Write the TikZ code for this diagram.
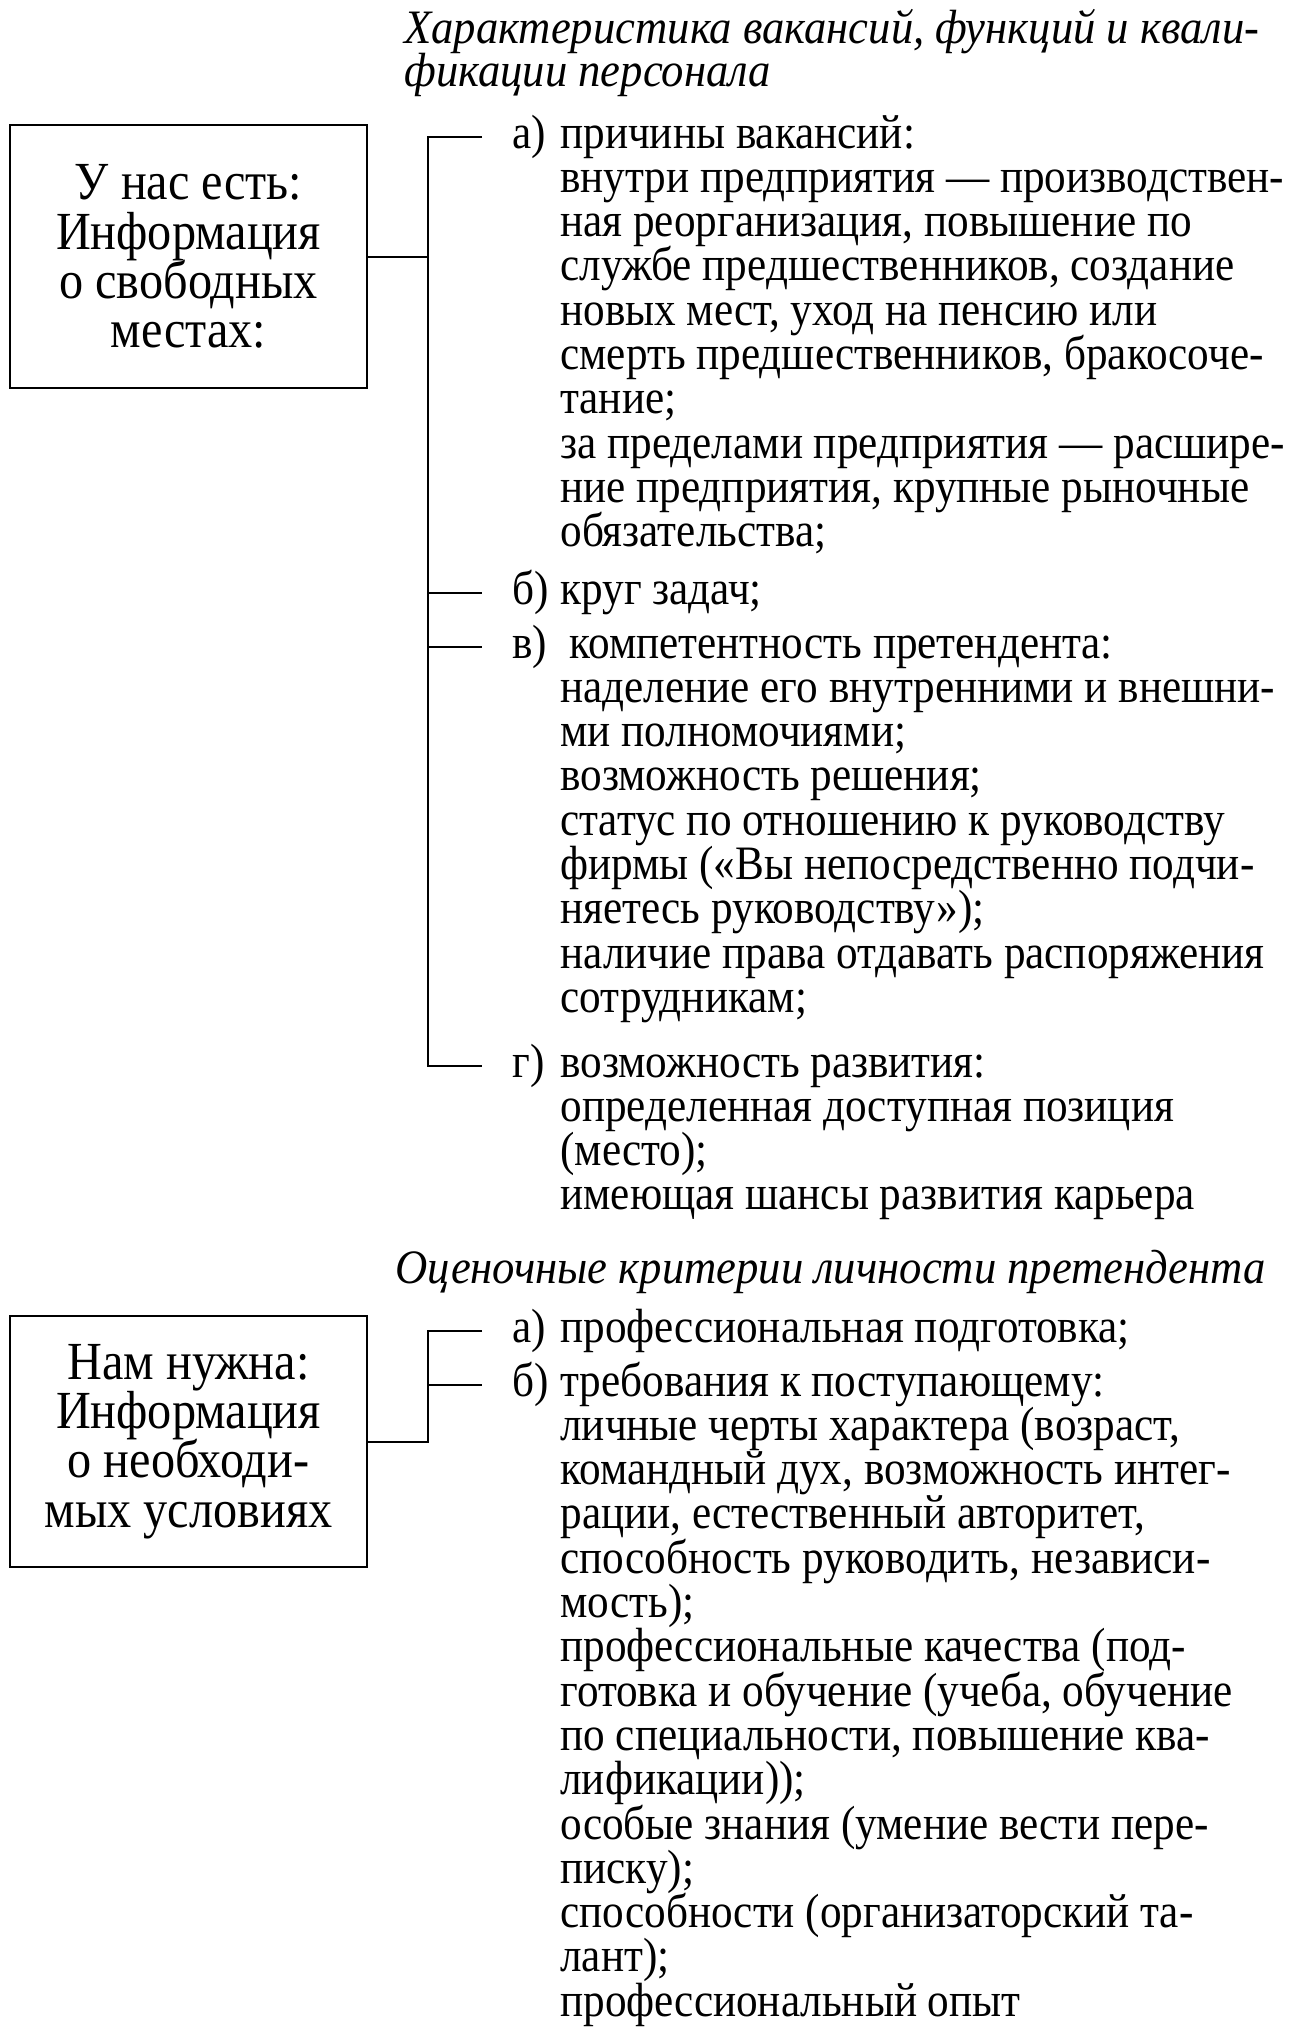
\documentclass[tikz,border=0pt]{standalone}
\usepackage{fontspec}
\setmainfont{Liberation Serif}[FakeStretch=0.9,ItalicFeatures={FakeStretch=0.93}]
\lineskiplimit=-100pt
\lineskip=0pt
\newcommand\itembody[1]{\parbox[t]{365pt}{\lineskiplimit=-100pt\lineskip=0pt\raggedright #1}}
\begin{document}
\fontsize{24}{22.15}\selectfont
\begin{tikzpicture}[x=0.5pt,y=-0.5pt,
  lw/.style={line width=1pt},
  infobox/.style={draw,line width=1.1pt,align=center,inner sep=0pt,minimum width=178.5pt,font=\fontsize{26.8}{24.6}\selectfont},
  lbl/.style={anchor=mid west,inner sep=0pt,font=\fontsize{24}{22.15}\selectfont},
  body/.style={anchor=mid west,inner sep=0pt,font=\fontsize{24}{22.15}\selectfont},
  ttl/.style={anchor=mid west,inner sep=0pt,font=\fontsize{24}{21.5}\selectfont\itshape}]
\useasboundingbox[fill=white] (0,0) rectangle (1291,2042);

% titles
\node[ttl] (t1) at (404,32) {\parbox[t]{450pt}{\lineskiplimit=-100pt\lineskip=0pt\raggedright Характеристика вакансий, функций и квали-\\фикации персонала}};
\node[ttl] (t2) at (395,1272) {Оценочные критерии личности претендента};

% boxes
\node[infobox,minimum height=131.5pt] (box1) at (188.5,256.5) {У нас есть:\\Информация\\о свободных\\местах:};
\node[infobox,minimum height=125.5pt] (box2) at (188.5,1441.5) {Нам нужна:\\Информация\\о необходи-\\мых условиях};

% block 1
\node[lbl] (la1) at (512,137) {а)};
\node[body] (ta1) at (560,137) {\itembody{причины вакансий:\\
внутри предприятия — производствен-\\
ная реорганизация, повышение по\\
службе предшественников, создание\\
новых мест, уход на пенсию или\\
смерть предшественников, бракосоче-\\
тание;\\
за пределами предприятия — расшире-\\
ние предприятия, крупные рыночные\\
обязательства;}};
\node[lbl] (lb1) at (512,593) {б)};
\node[body] (tb1) at (560,593) {\itembody{круг задач;}};
\node[lbl] (lc1) at (512,647) {в)};
\node[body] (tc1) at (560,647) {\itembody{\hspace*{4.5pt}компетентность претендента:\\
наделение его внутренними и внешни-\\
ми полномочиями;\\
возможность решения;\\
статус по отношению к руководству\\
фирмы («Вы непосредственно подчи-\\
няетесь руководству»);\\
наличие права отдавать распоряжения\\
сотрудникам;}};
\node[lbl] (ld1) at (512,1066) {г)};
\node[body] (td1) at (560,1066) {\itembody{возможность развития:\\
определенная доступная позиция\\
(место);\\
имеющая шансы развития карьера}};

% block 2
\node[lbl] (la2) at (512,1331) {а)};
\node[body] (ta2) at (560,1331) {\itembody{профессиональная подготовка;}};
\node[lbl] (lb2) at (512,1385) {б)};
\node[body] (tb2) at (560,1385) {\itembody{требования к поступающему:\\
личные черты характера (возраст,\\
командный дух, возможность интег-\\
рации, естественный авторитет,\\
способность руководить, независи-\\
мость);\\
профессиональные качества (под-\\
готовка и обучение (учеба, обучение\\
по специальности, повышение ква-\\
лификации));\\
особые знания (умение вести пере-\\
писку);\\
способности (организаторский та-\\
лант);\\
профессиональный опыт}};

% connectors block 1
\path (box1.east) ++(60,0) coordinate (j1);
\draw[lw] (box1.east) -- (j1);
\draw[lw] ([xshift=-15pt]la1.mid west) -- (la1.mid west -| j1) -- (ld1.mid west -| j1) -- ([xshift=-15pt]ld1.mid west);
\draw[lw] (lb1.mid west -| j1) -- ([xshift=-15pt]lb1.mid west);
\draw[lw] (lc1.mid west -| j1) -- ([xshift=-15pt]lc1.mid west);

% connectors block 2
\path (box2.east) ++(60,0) coordinate (j2);
\draw[lw] ([xshift=-15pt]la2.mid west) -- (la2.mid west -| j2) -- (j2) -- (box2.east);
\draw[lw] (lb2.mid west -| j2) -- ([xshift=-15pt]lb2.mid west);
\end{tikzpicture}
\end{document}
